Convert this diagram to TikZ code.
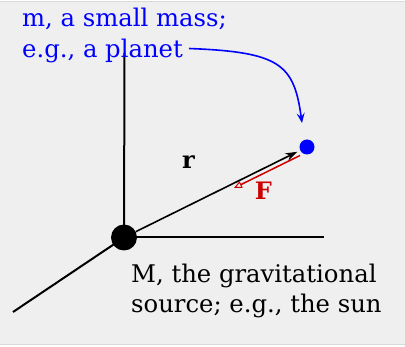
\documentclass[tikz,border=0pt]{standalone}
\usepackage{fontspec}
\setmainfont{DejaVu Serif}
\usetikzlibrary{arrows.meta}
\definecolor{bg}{HTML}{EFEFEF}
\definecolor{frame}{HTML}{D9D9D9}
\definecolor{fred}{HTML}{CC0000}
\begin{document}
\begin{tikzpicture}[x=1pt,y=-1pt,
  axis/.style={line width=2pt},
  lbl/.style={font=\fontsize{24.3}{30.5}\selectfont, inner sep=0pt, align=left, anchor=base west},
  dot/.style={circle, fill, inner sep=0pt}]
\useasboundingbox (0,0) rectangle (405,347);
\fill[white] (0,0) rectangle (405,347);
\fill[bg] (0,2) rectangle (405,344.5);
\draw[frame, line width=1pt] (0,2) -- (405,2);
\draw[frame, line width=1pt] (0,344.5) -- (405,344.5);
% axes
\coordinate (o) at (124,237.5);
\coordinate (ztop) at (124.5,53);
\coordinate (xend) at (324,237.5);
\coordinate (yend) at (13,312);
\draw[axis] (o) -- (ztop);
\draw[axis] (o) -- (xend);
\draw[axis] (o) -- (yend);
\node[dot, minimum size=26pt] (sun) at (o) {};
\node[dot, blue, minimum size=15pt] (planet) at (307,147) {};
% r vector
\draw[line width=1.6pt, -{Stealth[length=12pt,width=8pt]}, shorten >=3pt] (sun) -- (planet);
\node[font=\fontsize{24}{26}\selectfont\bfseries] (rl) at (188.5,162) {r};
% F vector
\coordinate (fs) at (300,155.5);
\coordinate (fe) at (234,188);
\draw[fred, line width=1.5pt, -{Triangle[open,length=8pt,width=7pt,line width=1pt]}] (fs) -- (fe);
\node[fred, font=\fontsize{24}{26}\selectfont\bfseries] (fl) at (263.5,191) {F};
% labels
\node[lbl, blue] (ml) at (22,57.5) {m, a small mass;\\e.g., a planet};
\node[lbl, black] (Ml) at (131,313) {M, the gravitational\\source; e.g., the sun};
% blue pointer
\coordinate (bs) at (189,48.5);
\coordinate (bt) at (302,123);
\draw[blue, line width=1.6pt, -{Stealth[length=10pt,width=8pt,inset=4pt]}] (bs) .. controls (280,52) and (294,64) .. (bt);
\end{tikzpicture}
\end{document}
